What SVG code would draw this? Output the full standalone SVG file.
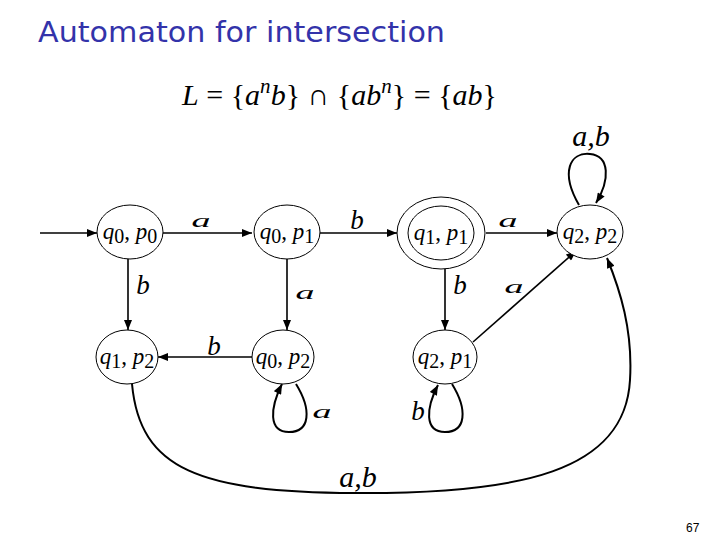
<svg xmlns="http://www.w3.org/2000/svg" width="720" height="540" viewBox="0 0 720 540">
<style>
.node{fill:#fff;stroke:#000;stroke-width:1}
.e{fill:none;stroke:#000;stroke-width:1.6}
.lp{fill:none;stroke:#000;stroke-width:2}
.nl{font-family:"Liberation Serif",serif;font-size:23px;text-anchor:middle;fill:#000}
.v{font-style:italic}
.s{font-size:20px}
.lb{font-family:"Liberation Serif",serif;font-style:italic;font-size:27px;fill:#000;text-anchor:middle}
.la{font-family:"Liberation Serif",serif;font-style:italic;font-size:19px;fill:#000;text-anchor:middle}
.ab{font-family:"Liberation Serif",serif;font-style:italic;font-size:30px;fill:#000;text-anchor:middle}
.title{font-family:"Comic Sans MS","DejaVu Sans",sans-serif;font-size:28px;fill:#3333aa}
.f{font-family:"Liberation Serif",serif;font-size:30px;fill:#000}
</style>
<defs>
<marker id="ah" viewBox="0 0 10 8" refX="10" refY="4" markerWidth="11" markerHeight="8" markerUnits="userSpaceOnUse" orient="auto">
<path d="M0,0 L10,4 L0,8 z" fill="#000"/>
</marker>
</defs>
<rect width="720" height="540" fill="#fff"/>
<text class="title" x="38" y="42" textLength="407" lengthAdjust="spacingAndGlyphs">Automaton for intersection</text>
<text class="f" x="182" y="105" textLength="315" lengthAdjust="spacing"><tspan class="v">L</tspan> = {<tspan class="v">a</tspan><tspan class="v" font-size="21" dy="-12">n</tspan><tspan class="v" dy="12">b</tspan>} ∩ {<tspan class="v">ab</tspan><tspan class="v" font-size="21" dy="-12">n</tspan><tspan dy="12">} = {</tspan><tspan class="v">ab</tspan>}</text>

<g id="connectors">
<path class="e" d="M40,233 L97,233" marker-end="url(#ah)"/>
<path class="e" d="M163,233 L252,233" marker-end="url(#ah)"/>
<path class="e" d="M320,233 L397,233" marker-end="url(#ah)"/>
<path class="e" d="M486,233 L557,233" marker-end="url(#ah)"/>
<path class="e" d="M128,259 L128,330" marker-end="url(#ah)"/>
<path class="e" d="M287,259 L287,330" marker-end="url(#ah)"/>
<path class="e" d="M445,269 L445,330" marker-end="url(#ah)"/>
<path class="e" d="M252,357 L158,357" marker-end="url(#ah)"/>
<path class="e" d="M473,342 L576,251" marker-end="url(#ah)"/>
<path class="lp" d="M579,205 C560,172 570,152 590,154 C610,156 610,180 596,203" marker-end="url(#ah)"/>
<path class="lp" d="M296,384 C312,410 310,432 289,432 C268,432 270,408 282,384" marker-end="url(#ah)"/>
<path class="lp" d="M452,384 C468,410 466,432 445,432 C424,432 426,408 438,385" marker-end="url(#ah)"/>
<path class="lp" d="M132,384 C140,470 200,492 355,493 C520,494 625,472 630,380 C633,330 620,290 607,258" marker-end="url(#ah)"/>
<text class="la" x="201" y="227" textLength="19" lengthAdjust="spacingAndGlyphs">a</text>
<text class="lb" x="357" y="229">b</text>
<text class="la" x="508" y="227" textLength="19" lengthAdjust="spacingAndGlyphs">a</text>
<text class="lb" x="143" y="294">b</text>
<text class="la" x="305" y="299" textLength="19" lengthAdjust="spacingAndGlyphs">a</text>
<text class="lb" x="460" y="294">b</text>
<text class="la" x="514" y="293" textLength="19" lengthAdjust="spacingAndGlyphs">a</text>
<text class="lb" x="214" y="355">b</text>
<text class="la" x="322" y="418" textLength="19" lengthAdjust="spacingAndGlyphs">a</text>
<text class="lb" x="418" y="420">b</text>
<text class="ab" x="591" y="146">a,b</text>
<text class="ab" x="358" y="487">a,b</text>
</g>

<g id="n_q0p0">
<ellipse class="node" cx="130" cy="232" rx="33" ry="27"/>
<text class="nl" x="130" y="239"><tspan class="v">q</tspan><tspan class="s" dy="4">0</tspan><tspan dy="-4">, </tspan><tspan class="v">p</tspan><tspan class="s" dy="4">0</tspan></text>
</g>
<g id="n_q0p1">
<ellipse class="node" cx="287" cy="232" rx="33" ry="27"/>
<text class="nl" x="287" y="239"><tspan class="v">q</tspan><tspan class="s" dy="4">0</tspan><tspan dy="-4">, </tspan><tspan class="v">p</tspan><tspan class="s" dy="4">1</tspan></text>
</g>
<g id="n_q1p1">
<ellipse class="node" cx="441" cy="233" rx="44" ry="36"/>
<ellipse class="node" cx="441" cy="233" rx="33" ry="27"/>
<text class="nl" x="441" y="240"><tspan class="v">q</tspan><tspan class="s" dy="4">1</tspan><tspan dy="-4">, </tspan><tspan class="v">p</tspan><tspan class="s" dy="4">1</tspan></text>
</g>
<g id="n_q2p2">
<ellipse class="node" cx="590" cy="232" rx="33" ry="27"/>
<text class="nl" x="590" y="239"><tspan class="v">q</tspan><tspan class="s" dy="4">2</tspan><tspan dy="-4">, </tspan><tspan class="v">p</tspan><tspan class="s" dy="4">2</tspan></text>
</g>
<g id="n_q1p2">
<ellipse class="node" cx="127" cy="357" rx="31" ry="27"/>
<text class="nl" x="127" y="364"><tspan class="v">q</tspan><tspan class="s" dy="4">1</tspan><tspan dy="-4">, </tspan><tspan class="v">p</tspan><tspan class="s" dy="4">2</tspan></text>
</g>
<g id="n_q0p2">
<ellipse class="node" cx="283" cy="357" rx="31" ry="27"/>
<text class="nl" x="283" y="364"><tspan class="v">q</tspan><tspan class="s" dy="4">0</tspan><tspan dy="-4">, </tspan><tspan class="v">p</tspan><tspan class="s" dy="4">2</tspan></text>
</g>
<g id="n_q2p1">
<ellipse class="node" cx="445" cy="357" rx="32" ry="27"/>
<text class="nl" x="445" y="364"><tspan class="v">q</tspan><tspan class="s" dy="4">2</tspan><tspan dy="-4">, </tspan><tspan class="v">p</tspan><tspan class="s" dy="4">1</tspan></text>
</g>
<text x="686" y="532" font-family="Liberation Sans,sans-serif" font-size="12" fill="#000">67</text>
</svg>
